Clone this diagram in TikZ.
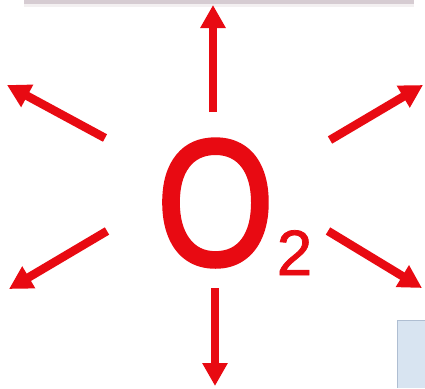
\documentclass[tikz,border=0pt]{standalone}
\usepackage{fontspec}
\setmainfont{Liberation Sans}
\newfontfamily\heavysans[FakeBold=2.2]{Liberation Sans}
\newfontfamily\semiheavy[FakeBold=1.2]{Liberation Sans}
\usetikzlibrary{arrows.meta}
\definecolor{oxred}{RGB}{232,10,18}
\definecolor{edgegray}{RGB}{214,204,210}
\definecolor{paleblue}{RGB}{216,228,241}
\definecolor{blueedge}{RGB}{175,190,210}
\tikzset{
  ray/.style={draw=oxred, line width=8.5pt,
    -{Triangle[width=24pt,length=23pt]}},
  bigtext/.style={text=oxred, inner sep=0pt, anchor=base}
}
\begin{document}
\begin{tikzpicture}[x=1pt,y=-1pt]
  \useasboundingbox (0,0) rectangle (425,388);
  \fill[white] (0,0) rectangle (425,388);
  % top box edge
  \fill[edgegray] (24,0) rectangle (414,3.5);
  \fill[edgegray!30] (24,3.5) rectangle (414,6.5);
  % bottom-right pale panel
  \fill[paleblue] (397,320) rectangle (425,388);
  \draw[blueedge, line width=1.2pt] (397.6,388) -- (397.6,320.6) -- (425,320.6);
  % central formula
  \node[bigtext] (o) at (215.5,265) {\heavysans\fontsize{180}{180}\selectfont\scalebox{0.84}[1]{O}};
  \node[bigtext] (sub) at (294.5,275) {\semiheavy\fontsize{64}{64}\selectfont 2};
  % ray end points
  \coordinate (tN) at (213,112);  \coordinate (hN) at (213,5);
  \coordinate (tS) at (215,288);  \coordinate (hS) at (215,386);
  \coordinate (tNW) at (105,138); \coordinate (hNW) at (7,85);
  \coordinate (tNE) at (330,140); \coordinate (hNE) at (423,85);
  \coordinate (tSW) at (107,231); \coordinate (hSW) at (9,289);
  \coordinate (tSE) at (328,231); \coordinate (hSE) at (422,288);
  \draw[ray] (tN) -- (hN);
  \draw[ray] (tS) -- (hS);
  \draw[ray] (tNW) -- (hNW);
  \draw[ray] (tNE) -- (hNE);
  \draw[ray] (tSW) -- (hSW);
  \draw[ray] (tSE) -- (hSE);
\end{tikzpicture}
\end{document}
